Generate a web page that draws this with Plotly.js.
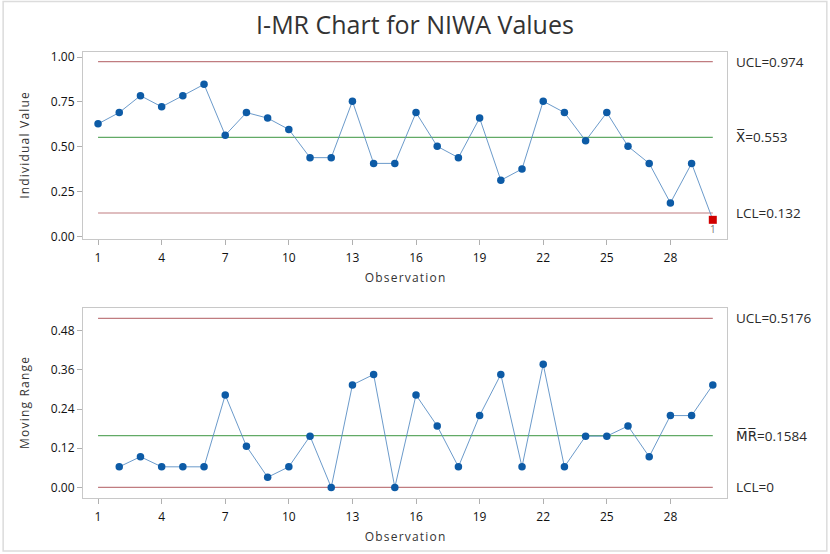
<!DOCTYPE html>
<html>
<head>
<meta charset="utf-8">
<script src="https://cdn.plot.ly/plotly-3.0.1.min.js"></script>
<style>
body { margin: 0; background: #fff; }
#chart { width: 830px; height: 554px; }
</style>
</head>
<body>
<div id="chart"></div>
<script>
// Observation numbers 1..30
var obs = [1,2,3,4,5,6,7,8,9,10,11,12,13,14,15,16,17,18,19,20,21,22,23,24,25,26,27,28,29,30];
// Individual values
var indiv = [0.628,0.691,0.785,0.723,0.785,0.848,0.565,0.691,0.660,0.597,
0.440,0.440,0.754,0.408,0.408,0.691,0.503,0.440,0.660,0.314,
0.377,0.754,0.691,0.534,0.691,0.503,0.408,0.188,0.408,0.094];
// Moving ranges (first observation has none)
var mr = [null,0.063,0.094,0.063,0.063,0.063,0.283,0.126,0.031,0.063,
0.157,0.000,0.314,0.346,0.000,0.283,0.188,0.063,0.220,0.346,
0.063,0.377,0.063,0.157,0.157,0.188,0.094,0.220,0.220,0.314];
// Control limits
var iLimits = {ucl: 0.974, cl: 0.553, lcl: 0.132};
var mrLimits = {ucl: 0.5176, cl: 0.1584, lcl: 0};
// Points out of control (test 1)
var failObs = [30];
var failVal = [0.094];
var failTag = ['1'];
var xTicks = [1,4,7,10,13,16,19,22,25,28];

var lineBlue = '#5a8ec4';
var dotBlue = '#0d5ba6';
var limRed = '#c07c80';
var cenGreen = '#62aa66';
var font = 'Open Sans, DejaVu Sans, sans-serif';

// Spread letters a little, like the original axis titles.
function spaced(s) {
return s.split('').join('\u200a');
}

function hline(y, color, xa, ya) {
return {
x: [obs[0], obs[obs.length-1]],
y: [y, y],
xaxis: xa, yaxis: ya,
mode: 'lines',
line: {color: color, width: 1.2},
hoverinfo: 'skip',
showlegend: false
};
}

var graph_data = [
hline(iLimits.ucl, limRed, 'x', 'y'),
hline(iLimits.cl, cenGreen, 'x', 'y'),
hline(iLimits.lcl, limRed, 'x', 'y'),
hline(mrLimits.ucl, limRed, 'x2', 'y2'),
hline(mrLimits.cl, cenGreen, 'x2', 'y2'),
hline(mrLimits.lcl, limRed, 'x2', 'y2'),
{
x: obs, y: indiv, xaxis: 'x', yaxis: 'y',
mode: 'lines',
line: {color: lineBlue, width: 0.9},
showlegend: false
},
{
x: obs.slice(0, 29), y: indiv.slice(0, 29), xaxis: 'x', yaxis: 'y',
mode: 'markers',
marker: {color: dotBlue, size: 7.5},
showlegend: false
},
{
x: failObs, y: failVal, xaxis: 'x', yaxis: 'y',
mode: 'markers+text',
marker: {color: '#d00000', size: 8, symbol: 'square'},
text: failTag,
textposition: 'bottom center',
textfont: {family: font, size: 10, color: '#777'},
showlegend: false
},
{
x: obs, y: mr, xaxis: 'x2', yaxis: 'y2',
mode: 'lines+markers',
line: {color: lineBlue, width: 0.9},
marker: {color: dotBlue, size: 7.5},
showlegend: false
}
];

var axisCommon = {
showline: true,
mirror: true,
linecolor: '#c8c8c8',
linewidth: 1,
ticks: 'outside',
ticklen: 5,
tickcolor: '#b0b0b0',
showgrid: false,
zeroline: false,
tickfont: {family: font, size: 12, color: '#111'}
};

function xAxis(anchor) {
return Object.assign({}, axisCommon, {
anchor: anchor,
range: [0.29, 30.67],
tickmode: 'array',
tickvals: xTicks,
ticklabelstandoff: 3,
title: {text: spaced('Observation'), font: {family: font, size: 12, color: '#333'}, standoff: 8}
});
}

var layout = {
width: 830,
height: 554,
margin: {l: 83, r: 103, t: 52, b: 56},
paper_bgcolor: '#fff',
plot_bgcolor: '#fff',
title: {
text: 'I-MR Chart for NIWA Values',
font: {family: font, size: 25, color: '#333'},
x: 0.5, xref: 'container', y: 0.955, yanchor: 'middle'
},
xaxis: xAxis('y'),
yaxis: Object.assign({}, axisCommon, {
domain: [0.5807, 1],
range: [-0.0128, 1.028],
tickvals: [0, 0.25, 0.5, 0.75, 1],
tickformat: '.2f',
title: {text: spaced('Individual Value'), font: {family: font, size: 12, color: '#333'}, standoff: 18}
}),
xaxis2: xAxis('y2'),
yaxis2: Object.assign({}, axisCommon, {
domain: [0, 0.426],
range: [-0.0325, 0.5495],
tickvals: [0, 0.12, 0.24, 0.36, 0.48],
tickformat: '.2f',
title: {text: spaced('Moving Range'), font: {family: font, size: 12, color: '#333'}, standoff: 18}
}),
annotations: [],
shapes: [{
type: 'rect', xref: 'paper', yref: 'paper',
x0: -0.124, x1: 1.155, y0: -0.119, y1: 1.113,
line: {color: '#dcdcdc', width: 1.5}
}]
};

var labelFont = {family: font, size: 13.5, color: '#2a2a2a'};
function limLabel(text, y, ya) {
return {text: text, xref: 'paper', x: 1.011, xanchor: 'left',
yref: ya, y: y, yanchor: 'middle', showarrow: false, font: labelFont};
}
layout.annotations.push(
limLabel('UCL=' + iLimits.ucl, iLimits.ucl, 'y'),
limLabel('X\u0305=' + iLimits.cl, iLimits.cl, 'y'),
limLabel('LCL=' + iLimits.lcl, iLimits.lcl, 'y'),
limLabel('UCL=' + mrLimits.ucl, mrLimits.ucl, 'y2'),
limLabel('M\u0305R\u0305=' + mrLimits.cl, mrLimits.cl, 'y2'),
limLabel('LCL=' + mrLimits.lcl, mrLimits.lcl, 'y2')
);

let config = {displayModeBar: false, responsive: false};
Plotly.newPlot('chart', graph_data, layout, config);
</script>
</body>
</html>
